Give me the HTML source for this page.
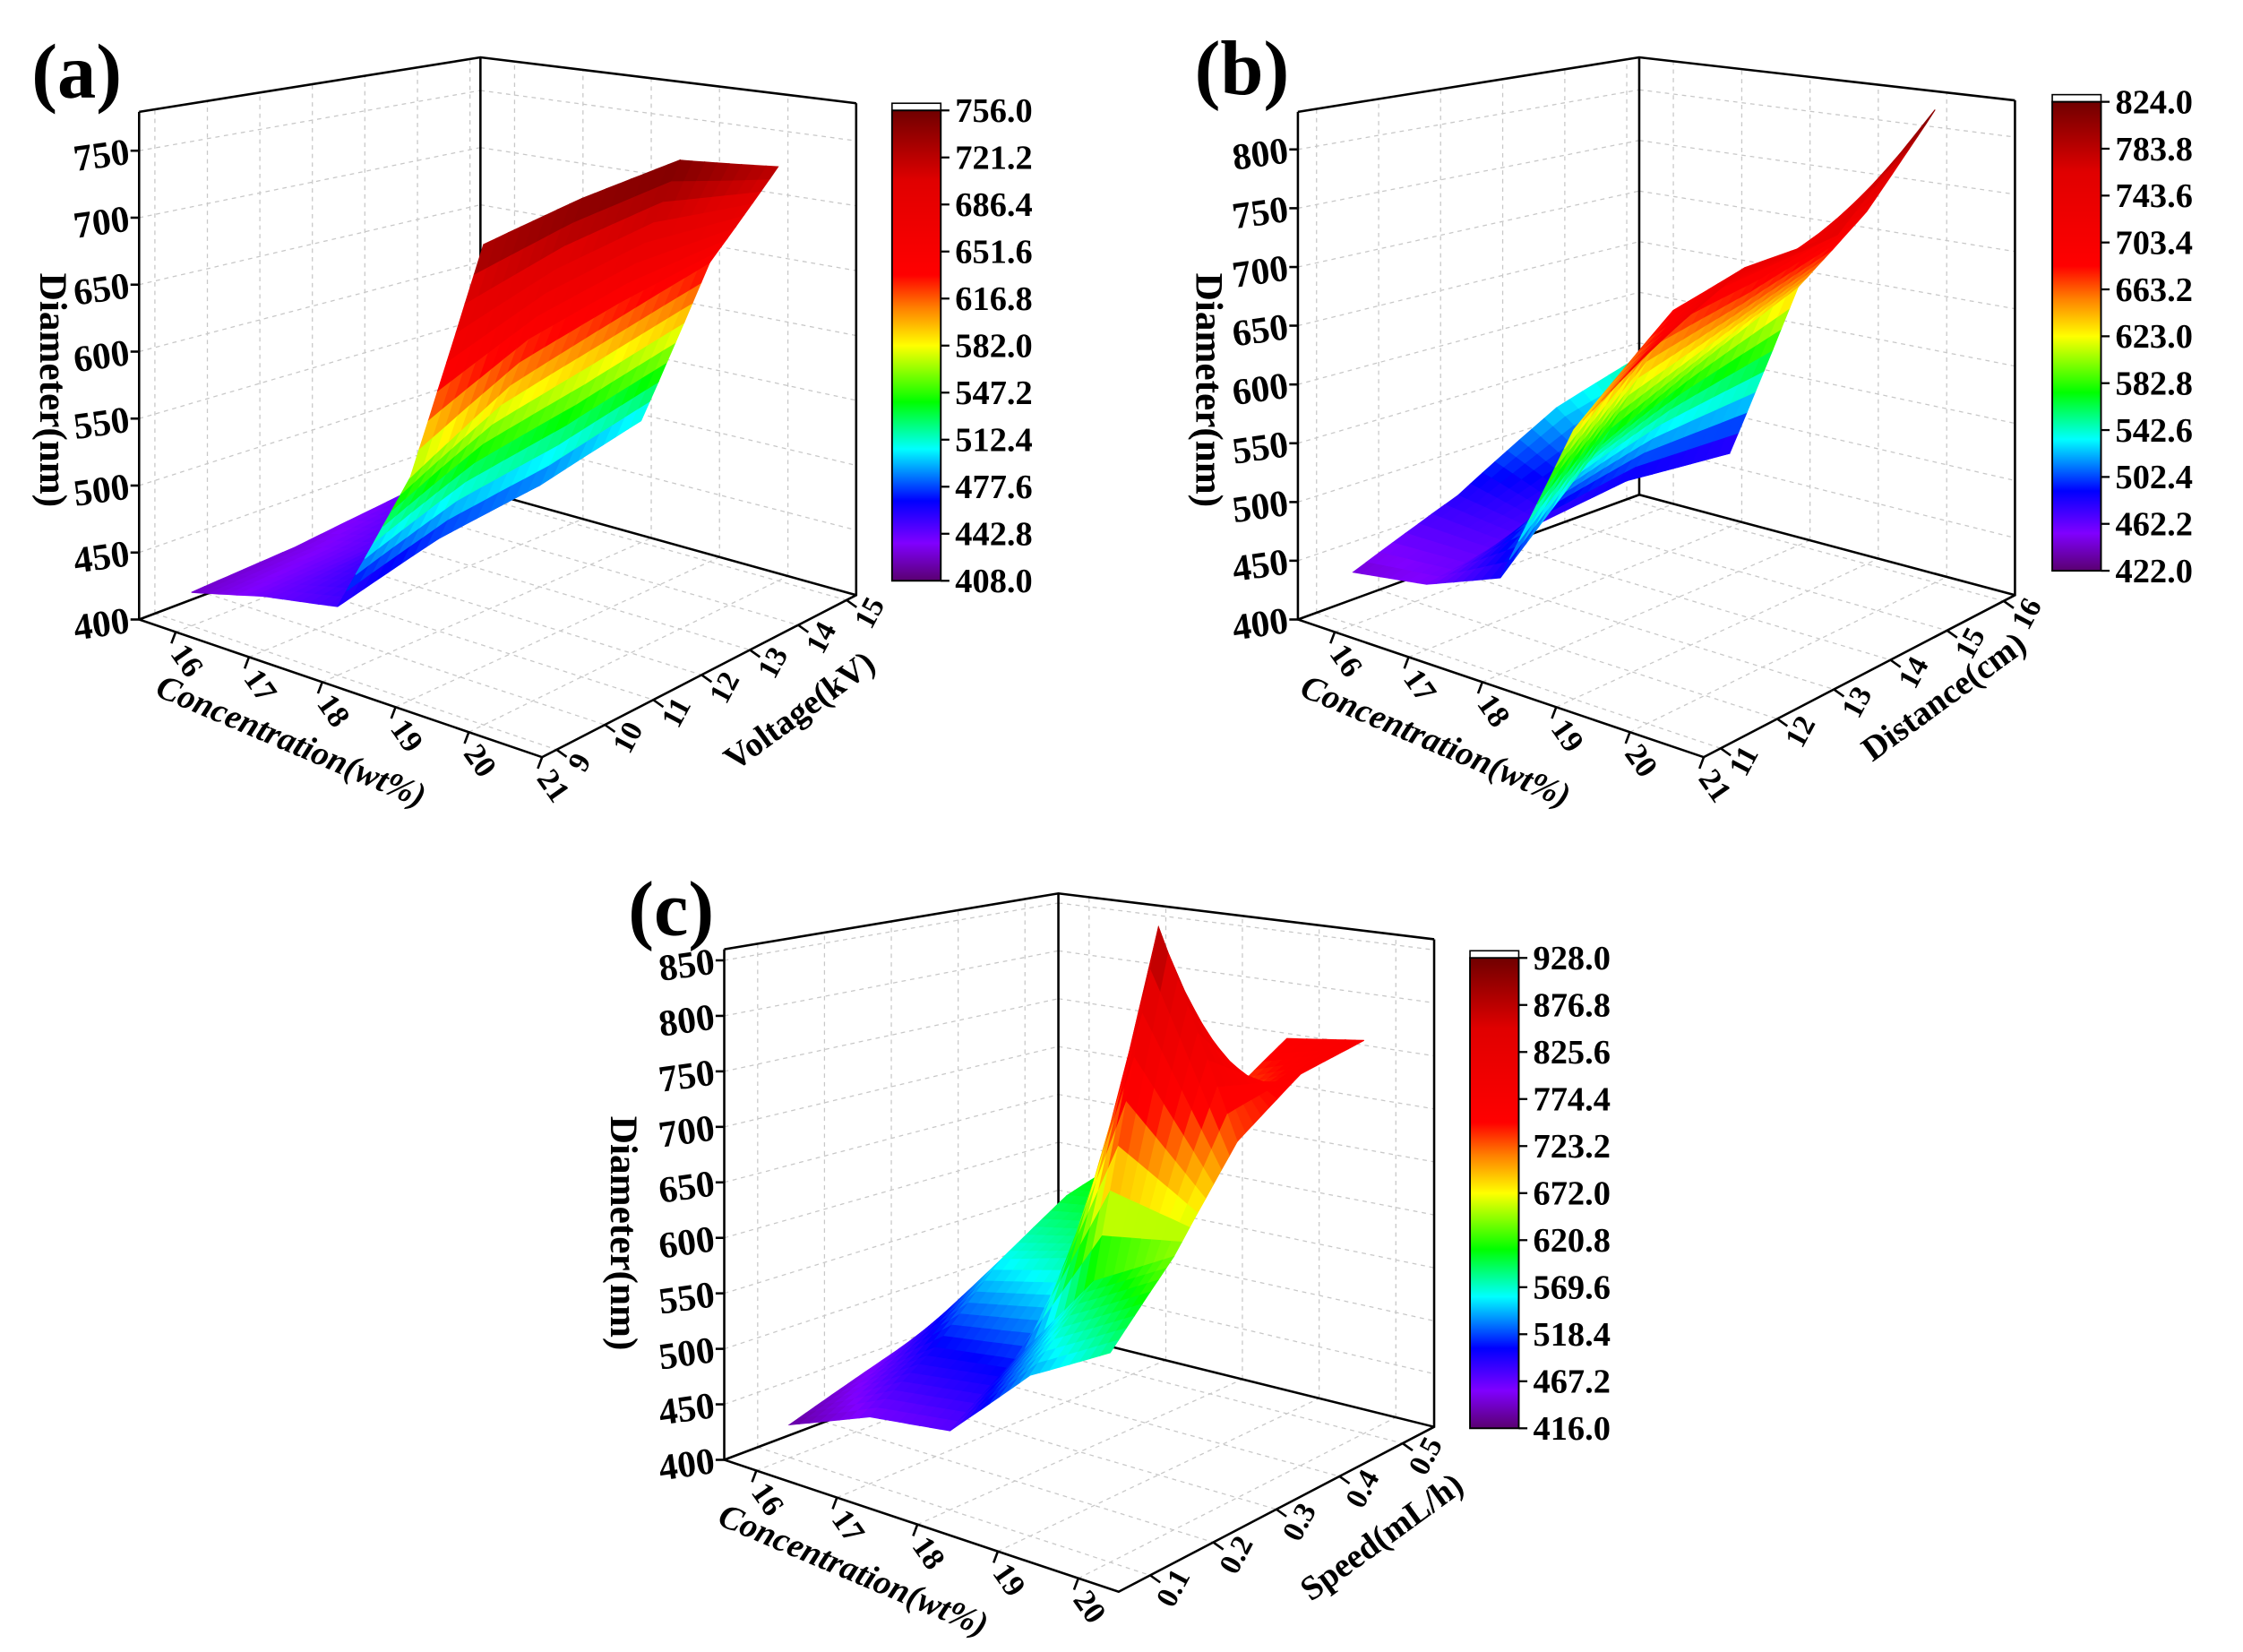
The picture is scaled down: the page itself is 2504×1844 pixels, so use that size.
<!DOCTYPE html>
<html><head><meta charset="utf-8"><style>
html,body{margin:0;padding:0;background:#fff;}
svg{display:block;}
text{font-family:"Liberation Serif",serif;font-weight:bold;fill:#000;}
</style></head><body>
<svg id="fig" width="2504" height="1844" viewBox="0 0 1564 1152" preserveAspectRatio="none" xmlns="http://www.w3.org/2000/svg">
<defs>
<linearGradient id="jet" x1="0" y1="1" x2="0" y2="0">
<stop offset="0" stop-color="#5a0070"/><stop offset="0.08" stop-color="#8000ff"/><stop offset="0.17" stop-color="#0000ff"/><stop offset="0.28" stop-color="#00ffff"/><stop offset="0.38" stop-color="#00ff00"/><stop offset="0.5" stop-color="#ffff00"/><stop offset="0.58" stop-color="#ff8000"/><stop offset="0.65" stop-color="#ff0000"/><stop offset="0.85" stop-color="#e00000"/><stop offset="1" stop-color="#700000"/>
</linearGradient>
</defs>
</svg>
<script>
// ---- Panel (a) data ----
const aConc = [16, 17, 18, 19, 20];
const aVolt = [9, 11, 13, 15];
const aDiam = [
  [425, 430, 440, 445],
  [440, 445, 455, 460],
  [450, 470, 480, 500],
  [560, 600, 620, 640],
  [740, 750, 755, 725]
];
const aZTicks = [400, 450, 500, 550, 600, 650, 700, 750];
const aCTicks = [16, 17, 18, 19, 20, 21];
const aVTicks = [9, 10, 11, 12, 13, 14, 15];
const aBar = ["756.0","721.2","686.4","651.6","616.8","582.0","547.2","512.4","477.6","442.8","408.0"];
// ---- Panel (b) data ----
const bConc = [16, 17, 18, 19, 20];
const bDist = [11, 12.7, 14.3, 16];
const bDiam = [
  [445, 480, 530, 560],
  [455, 470, 480, 470],
  [480, 560, 600, 640],
  [620, 690, 700, 720],
  [700, 740, 740, 820]
];
const bZTicks = [400, 450, 500, 550, 600, 650, 700, 750, 800];
const bCTicks = [16, 17, 18, 19, 20, 21];
const bVTicks = [11, 12, 13, 14, 15, 16];
const bBar = ["824.0","783.8","743.6","703.4","663.2","623.0","582.8","542.6","502.4","462.2","422.0"];
// ---- Panel (c) data ----
const cConc = [16, 17, 18, 19, 20];
const cSpeed = [0.1, 0.2, 0.3, 0.4, 0.5];
const cDiam = [
  [430, 450, 470, 490, 520],
  [460, 500, 560, 600, 620],
  [470, 510, 580, 610, 620],
  [540, 600, 900, 720, 760],
  [580, 640, 720, 760, 770]
];
const cZTicks = [400, 450, 500, 550, 600, 650, 700, 750, 800, 850];
const cCTicks = [16, 17, 18, 19, 20];
const cVTicks = [0.1, 0.2, 0.3, 0.4, 0.5];
const cBar = ["928.0","876.8","825.6","774.4","723.2","672.0","620.8","569.6","518.4","467.2","416.0"];

const NS = "http://www.w3.org/2000/svg";
const svg = document.getElementById("fig");
function mk(tag, attrs, parent) {
  const e = document.createElementNS(NS, tag);
  for (const k in attrs) e.setAttribute(k, attrs[k]);
  (parent || svg).appendChild(e);
  return e;
}
const stops = [[0,[90,0,112]],[0.08,[128,0,255]],[0.17,[0,0,255]],[0.28,[0,255,255]],[0.38,[0,255,0]],[0.5,[255,255,0]],[0.58,[255,128,0]],[0.65,[255,0,0]],[0.85,[224,0,0]],[1,[112,0,0]]];
function cmap(t) {
  t = Math.max(0, Math.min(1, t));
  for (let i = 1; i < stops.length; i++) {
    if (t <= stops[i][0]) {
      const a = stops[i-1], b = stops[i], f = (t - a[0]) / (b[0] - a[0]);
      const c = a[1].map((v, k) => Math.round(v + (b[1][k] - v) * f));
      return "rgb(" + c.join(",") + ")";
    }
  }
  return "rgb(112,0,0)";
}

function panel(S, X, Y, Z, zT, cT, vT, bar) {
  const g = mk("g", {});
  
  
  function P(c, v, z) {
    const cn = (c - S.c[0]) / (S.c[1] - S.c[0]), vn = (v - S.v[0]) / (S.v[1] - S.v[0]);
    const w = [(1-cn)*(1-vn), cn*(1-vn), cn*vn, (1-cn)*vn];
    const C = [S.L, S.F, S.R, S.B], H = S.h;
    let x = 0, y = 0, h = 0;
    for (let i = 0; i < 4; i++) { x += w[i]*C[i][0]; y += w[i]*C[i][1]; h += w[i]*H[i]; }
    return [x, y - (z - S.z[0]) / (S.z[1] - S.z[0]) * h];
  }
  const pts = a => a.map(p => p[0].toFixed(1) + "," + p[1].toFixed(1)).join(" ");
  function line(a, st, name) {
    const e = mk("polyline", Object.assign({points: pts(a), fill: "none"}, st), g);
    
    
  }
  const grid = {stroke: "#c8c8c8", "stroke-width": 0.8, "stroke-dasharray": "3,3"};
  const seg = (f) => { const a = []; for (let i = 0; i <= 10; i++) a.push(f(i/10)); return a; };
  const [c0, c1] = S.c, [v0, v1] = S.v, [z0, z1] = S.z;
  zT.forEach(z => {
    line(seg(t => P(c0, v0 + (v1-v0)*t, z)), grid, 'grid-left-wall');
    line(seg(t => P(c0 + (c1-c0)*t, v1, z)), grid, 'grid-right-wall');
  });
  vT.forEach(v => {
    line([P(c0, v, z0), P(c0, v, z1)], grid, 'grid-left-wall');
    line(seg(t => P(c0 + (c1-c0)*t, v, z0)), grid, 'grid-floor');
  });
  cT.forEach(c => {
    line([P(c, v1, z0), P(c, v1, z1)], grid, 'grid-right-wall');
    line(seg(t => P(c, v0 + (v1-v0)*t, z0)), grid, 'grid-floor');
  });
  const bx = {stroke: "#000", "stroke-width": 1.6};
  line([P(c0,v0,z1), P(c0,v0,z0), P(c1,v0,z0), P(c1,v1,z0), P(c1,v1,z1)], bx, 'axis-box-front');
  line([P(c0,v0,z0), P(c0,v1,z0), P(c1,v1,z0)], bx, 'axis-box-floor');
  line([P(c0,v0,z1), P(c0,v1,z1), P(c1,v1,z1)], bx, 'axis-box-top');
  line([P(c0,v1,z0), P(c0,v1,z1)], bx, 'axis-box-back');
  const N = 8, quads = [];
  const bil = (i, j, s, t) => (1-s)*(1-t)*Z[i][j] + s*(1-t)*Z[i+1][j] + s*t*Z[i+1][j+1] + (1-s)*t*Z[i][j+1];
  for (let i = 0; i < X.length - 1; i++) for (let j = 0; j < Y.length - 1; j++)
    for (let a = 0; a < N; a++) for (let b = 0; b < N; b++) {
      const corners = [[a,b],[a+1,b],[a+1,b+1],[a,b+1]].map(([p, q]) => {
        const s = p/N, t = q/N;
        const c = X[i] + (X[i+1]-X[i])*s, v = Y[j] + (Y[j+1]-Y[j])*t, z = bil(i, j, s, t);
        return [c, v, z];
      });
      const cm = corners.reduce((m, k) => m + k[0], 0)/4, vm = corners.reduce((m, k) => m + k[1], 0)/4, zm = corners.reduce((m, k) => m + k[2], 0)/4;
      const key = (cm - c0)/(c1 - c0) - (vm - v0)/(v1 - v0);
      quads.push({key, zm, pp: corners.map(k => P(k[0], k[1], k[2]))});
    }
  quads.sort((p, q) => p.key - q.key);
  const sg = mk("g", {}, g);
  
  
  quads.forEach(q => {
    const col = cmap((q.zm - S.bar[0]) / (S.bar[1] - S.bar[0]));
    const e = mk("polygon", {points: pts(q.pp), fill: col, stroke: col, "stroke-width": 0.7}, sg);
    
    
  });
  zT.forEach(z => {
    const p = P(c0, v0, z);
    line([p, [p[0]-6, p[1]]], bx, 'z-tick');
    const t = mk("text", {x: p[0]-7, y: p[1]+9, "text-anchor": "end", "font-size": 26, transform: `rotate(-8 ${p[0]-7} ${p[1]})`}, g);
    t.textContent = z;
    
    
  });
  cT.forEach(c => {
    const p = P(c, v0, z0);
    line([p, [p[0]-3, p[1]+8]], bx, 'x-tick');
    const x = p[0] + S.cl[0], y = p[1] + S.cl[1];
    const t = mk("text", {x, y, "text-anchor": "middle", "font-size": 22, transform: `rotate(55 ${x} ${y})`}, g);
    t.textContent = c;
    
    
  });
  vT.forEach(v => {
    const p = P(c1, v, z0);
    line([p, [p[0]+7, p[1]+5]], bx, 'y-tick');
    const x = p[0] + S.vl[0], y = p[1] + S.vl[1];
    const t = mk("text", {x, y, "text-anchor": "middle", "font-size": 21, transform: `rotate(-62 ${x} ${y})`}, g);
    t.textContent = v;
    
    
  });
  let t = mk("text", {x: S.ct[0], y: S.ct[1], "text-anchor": "middle", "font-size": 24, "font-style": "italic", transform: `rotate(23 ${S.ct[0]} ${S.ct[1]})`}, g);
  t.textContent = "Concentration(wt%)";
  
  
  t = mk("text", {x: S.vt[0], y: S.vt[1], "text-anchor": "middle", "font-size": 24, transform: `rotate(-36 ${S.vt[0]} ${S.vt[1]})`}, g);
  t.textContent = S.vname;
  
  
  t = mk("text", {x: S.zt[0], y: S.zt[1], "text-anchor": "middle", "font-size": 27, transform: `rotate(90 ${S.zt[0]} ${S.zt[1]})`}, g);
  t.textContent = "Diameter(nm)";
  
  
  t = mk("text", {x: S.lab[0], y: S.lab[1], "font-size": 54}, g);
  t.textContent = "(" + S.id + ")";
  
  
  const [bxx, by0, bw, bh] = S.cb;
  let r = mk("rect", {x: bxx, y: by0, width: bw, height: 5, fill: "#fff", stroke: "#000", "stroke-width": 1}, g);
  
  
  r = mk("rect", {x: bxx, y: by0 + 5, width: bw, height: bh - 5, fill: "url(#jet)", stroke: "#000", "stroke-width": 1.2}, g);
  
  
  bar.forEach((lb, k) => {
    const y = by0 + 5 + k * (bh - 5) / (bar.length - 1);
    line([[bxx + bw, y], [bxx + bw + 6, y]], {stroke: "#000", "stroke-width": 1.4}, 'colorbar-tick');
    const tt = mk("text", {x: bxx + bw + 10, y: y + 8, "font-size": 24}, g);
    tt.textContent = lb;
    
    
  });
}

panel({id: "a", L: [97,432], F: [378,528], R: [597,415], B: [335,342], h: [354,380,343,302],
  c: [15.5, 21], v: [8.7, 15.2], z: [400, 779], bar: [408, 756],
  cl: [2, 24], vl: [22, 12], ct: [200, 524], vt: [562, 502], zt: [28, 272], lab: [22, 68],
  cb: [622, 72, 34, 333], vname: "Voltage(kV)"}, aConc, aVolt, aDiam, aZTicks, aCTicks, aVTicks, aBar);
panel({id: "b", L: [905,432], F: [1188,528], R: [1405,415], B: [1143,345], h: [354,380,345,305],
  c: [15.5, 21], v: [10.7, 16.2], z: [400, 832], bar: [422, 824],
  cl: [2, 24], vl: [22, 12], ct: [998, 524], vt: [1360, 492], zt: [834, 272], lab: [833, 66],
  cb: [1431, 66, 34, 332], vname: "Distance(cm)"}, bConc, bDist, bDiam, bZTicks, bCTicks, bVTicks, bBar);
panel({id: "c", L: [505,1018], F: [780,1110], R: [1000,995], B: [738,930], h: [356,380,340,307],
  c: [15.6, 20.5], v: [0.05, 0.55], z: [400, 860], bar: [416, 928],
  cl: [2, 24], vl: [22, 12], ct: [592, 1102], vt: [968, 1078], zt: [426, 860], lab: [438, 652],
  cb: [1025, 663, 34, 333], vname: "Speed(mL/h)"}, cConc, cSpeed, cDiam, cZTicks, cCTicks, cVTicks, cBar);
</script>
</body></html>
